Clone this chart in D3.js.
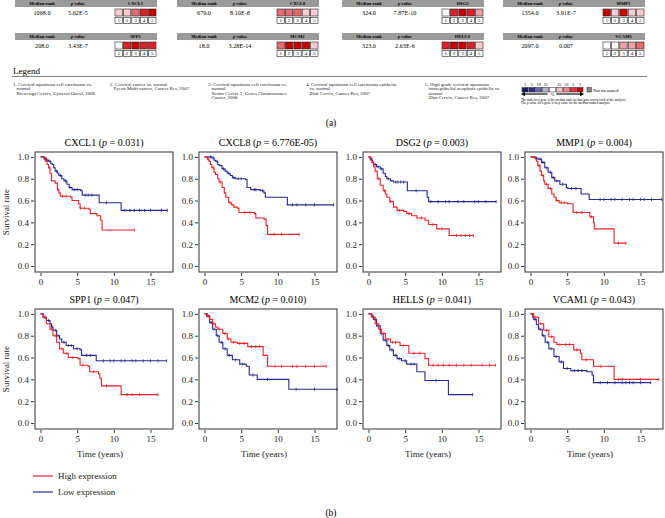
<!DOCTYPE html>
<html>
<head>
<meta charset="utf-8">
<script src="https://cdn.jsdelivr.net/npm/d3@7"></script>
<style>
  body { margin: 0; background: #fff; }
  svg { display: block; font-family: "Liberation Serif", "DejaVu Serif", serif; }
</style>
</head>
<body>
<svg width="665" height="518"></svg>
<script>
// ---- panel (a) data ----
const genes = ["CXCL1", "CXCL8", "DSG2", "MMP1", "SPP1", "MCM2", "HELLS", "VCAM1"];
const medianRanks = ["1068.0", "679.0", "324.0", "1354.0", "208.0", "18.0", "323.0", "2097.0"];
const pValues = ["5.62E-5", "8.10E-8", "7.87E-10", "3.91E-7", "3.43E-7", "3.28E-14", "2.63E-6", "0.007"];
// shade level of each of the 5 analyses (0 = white ... 5 = darkest red)
const boxLevels = [
  [1, 1, 3, 4, 5],
  [3, 3, 3, 1, 1],
  [0, 4, 5, 4, 2],
  [5, 1, 5, 1, 1],
  [0, 4, 5, 4, 4],
  [3, 5, 5, 5, 1],
  [4, 5, 5, 4, 1],
  [0, 0, 2, 2, 3]
];
const legendItems = [
  ["1. Cervical squamous cell carcinoma vs.", "normal", "Biewenga Cervix, Gynecol Oncol, 2008"],
  ["2. Cervical cancer vs. normal", "Pyeon Multi-cancer, Cancer Res, 2007"],
  ["3. Cervical squamous cell carcinoma vs.", "normal", "Scotto Cervix 2, Genes Chromosomes", "Cancer, 2008"],
  ["4. Cervical squamous cell carcinoma epithelia", "vs. normal", "Zhai Cervix, Cancer Res, 2007"],
  ["5. High grade cervical squamous", "intraepithelial neoplasia epithelia vs.", "normal", "Zhai Cervix, Cancer Res, 2007"]
];
const scaleLabels = ["1", "5", "10", "25", "", "25", "10", "5", "1"];

// ---- panel (b) data ----
const kmP = ["0.031", "6.776E-05", "0.003", "0.004", "0.047", "0.010", "0.041", "0.043"];
const yTicks = [0, 0.2, 0.4, 0.6, 0.8, 1.0];
const xTicks = [0, 5, 10, 15];

// [time, survival] steps, high expression (red)
const highCurves = [
  [[0,1],[0.5,0.98],[0.7,0.96],[0.9,0.93],[1.1,0.9],[1.3,0.85],[1.5,0.78],[2.0,0.76],[2.3,0.70],[2.5,0.67],[2.7,0.64],[4.1,0.63],[4.3,0.6],[5.2,0.57],[5.4,0.53],[6.6,0.52],[6.8,0.48],[7.7,0.46],[8.2,0.42],[8.4,0.33],[12.8,0.33]],
  [[0,1],[0.4,0.98],[0.6,0.96],[0.8,0.93],[1.0,0.90],[1.3,0.86],[1.5,0.84],[1.8,0.80],[2.0,0.77],[2.4,0.72],[2.7,0.67],[2.9,0.63],[3.3,0.58],[3.7,0.56],[4.0,0.54],[4.5,0.53],[4.7,0.49],[6.8,0.48],[7.0,0.44],[8.1,0.43],[8.4,0.37],[8.6,0.29],[12.9,0.29]],
  [[0,1],[0.3,0.97],[0.5,0.95],[0.7,0.91],[0.9,0.87],[1.2,0.80],[1.6,0.74],[2.0,0.69],[2.3,0.66],[2.5,0.63],[2.9,0.59],[3.4,0.54],[3.9,0.51],[4.8,0.50],[5.2,0.48],[5.9,0.46],[6.6,0.44],[7.7,0.42],[8.2,0.38],[9.3,0.34],[11.0,0.28],[14.3,0.28]],
  [[0,1],[0.6,0.99],[0.8,0.96],[1.0,0.92],[1.3,0.87],[1.5,0.83],[1.8,0.78],[1.95,0.75],[2.4,0.71],[2.9,0.66],[3.2,0.63],[3.5,0.60],[3.9,0.58],[5.0,0.57],[5.8,0.49],[8.1,0.45],[8.6,0.40],[8.7,0.34],[11.4,0.21],[13.0,0.21]],
  [[0,1],[0.35,0.97],[0.8,0.91],[1.3,0.86],[1.7,0.80],[2.2,0.74],[2.6,0.68],[3.1,0.64],[3.8,0.60],[5.1,0.59],[5.4,0.53],[6.5,0.52],[6.7,0.47],[7.9,0.45],[8.1,0.41],[8.3,0.34],[11.0,0.26],[16.0,0.26]],
  [[0,1],[0.4,0.98],[0.7,0.95],[1.1,0.91],[1.5,0.88],[1.8,0.86],[2.5,0.82],[3.1,0.77],[3.6,0.74],[4.5,0.73],[5.9,0.70],[8.0,0.62],[8.6,0.52],[16.6,0.52]],
  [[0,1],[0.45,0.97],[0.9,0.91],[1.4,0.86],[1.8,0.82],[2.3,0.77],[3.0,0.74],[4.3,0.71],[5.5,0.64],[7.7,0.59],[8.2,0.53],[17.3,0.53]],
  [[0,1],[0.45,0.97],[1.1,0.91],[1.8,0.85],[2.5,0.79],[3.2,0.74],[3.6,0.72],[5.9,0.67],[6.8,0.64],[7.0,0.58],[8.6,0.52],[11.4,0.40],[17.5,0.40]]
];
// low expression (blue)
const lowCurves = [
  [[0,1],[0.45,0.99],[0.8,0.97],[1.1,0.96],[1.4,0.94],[1.6,0.93],[1.8,0.9],[2.0,0.87],[2.3,0.85],[2.5,0.83],[2.9,0.8],[3.2,0.78],[3.6,0.75],[3.9,0.72],[4.3,0.70],[5.5,0.69],[5.7,0.65],[8.0,0.58],[11.0,0.51],[17.3,0.51]],
  [[0,1],[0.6,1.0],[1.0,0.99],[1.3,0.97],[1.5,0.96],[1.8,0.93],[2.0,0.92],[2.4,0.89],[2.8,0.87],[3.1,0.85],[3.5,0.83],[3.8,0.81],[4.2,0.80],[5.6,0.79],[5.8,0.72],[6.3,0.70],[7.6,0.69],[8.1,0.67],[8.3,0.63],[11.3,0.56],[17.6,0.56]],
  [[0,1],[0.2,0.98],[0.5,0.95],[0.7,0.93],[1.1,0.91],[1.6,0.89],[2.0,0.85],[2.3,0.82],[2.5,0.80],[3.0,0.78],[3.4,0.77],[5.3,0.69],[8.0,0.63],[8.2,0.59],[17.4,0.59]],
  [[0,1],[0.6,0.99],[1.0,0.98],[1.5,0.95],[1.95,0.90],[2.4,0.86],[2.9,0.81],[3.3,0.78],[4.0,0.75],[4.9,0.72],[5.1,0.71],[6.9,0.66],[8.0,0.61],[17.9,0.61]],
  [[0,1],[0.35,0.97],[0.8,0.94],[1.3,0.91],[1.5,0.88],[1.7,0.85],[2.2,0.80],[2.6,0.77],[2.9,0.74],[3.5,0.71],[4.5,0.68],[5.4,0.67],[5.6,0.62],[7.6,0.57],[17.2,0.57]],
  [[0,1],[0.3,0.98],[0.7,0.92],[1.1,0.86],[1.6,0.80],[2.0,0.74],[2.5,0.68],[3.1,0.62],[3.8,0.58],[4.8,0.54],[5.7,0.52],[6.1,0.44],[7.2,0.40],[11.5,0.31],[18.1,0.31]],
  [[0,1],[0.4,0.98],[0.7,0.95],[1.1,0.89],[1.6,0.82],[2.0,0.76],[2.5,0.71],[2.9,0.67],[3.4,0.62],[3.9,0.59],[4.5,0.57],[5.2,0.54],[6.6,0.47],[7.7,0.39],[10.9,0.26],[14.2,0.26]],
  [[0,1],[0.3,0.97],[0.45,0.95],[0.8,0.9],[1.1,0.86],[1.6,0.80],[2.0,0.74],[2.5,0.68],[3.2,0.61],[3.9,0.56],[4.5,0.50],[5.5,0.48],[7.7,0.47],[8.4,0.44],[8.6,0.37],[16.4,0.37]]
];
// censoring times
const highCensor = [
  [0.6,1.2,2.4,3.0,3.5,5.5,6.0,12.8],
  [0.5,1.2,2.2,3.5,5.5,6.2,9.5,10.5,12.9],
  [0.6,1.4,2.2,3.0,4.2,5.5,7.2,8.8,10.0,12.0,12.6,13.2,13.8,14.3],
  [0.7,1.2,1.7,2.2,2.7,3.6,4.2,4.6,6.3,7.0,8.3,12.0,13.0],
  [0.6,1.5,2.0,2.9,3.5,4.4,5.8,7.2,9.0,11.8,12.5,13.5,16.0],
  [0.5,1.3,2.0,2.8,3.3,4.0,4.8,5.4,6.4,7.0,7.5,9.6,10.5,12.0,12.6,13.8,15.0,16.6],
  [0.6,1.1,1.6,2.1,2.7,3.3,3.7,4.8,6.2,7.0,8.8,9.5,10.2,11.0,12.0,13.0,14.0,15.5,16.5,17.3],
  [0.6,1.4,2.2,2.9,4.0,4.8,5.3,6.3,7.6,9.6,12.0,12.5,15.0,17.5]
];
const lowCensor = [
  [0.6,1.0,1.3,2.2,2.7,3.4,4.0,4.6,5.0,6.1,6.5,7.0,9.0,11.5,12.2,12.8,13.5,14.2,15.0,16.5,17.3],
  [0.8,1.2,1.7,2.6,3.3,4.0,4.6,5.0,6.8,7.0,7.9,12.0,12.6,13.8,15.0,17.6],
  [0.4,0.9,1.3,1.8,2.7,3.7,4.0,4.4,4.8,6.5,8.5,9.5,10.5,11.0,12.2,13.0,14.5,15.0,16.0,17.4],
  [0.8,1.3,1.7,2.2,2.7,3.1,3.6,4.4,5.6,6.2,9.5,10.0,11.0,11.5,12.5,13.5,14.0,15.0,15.5,16.5,17.9],
  [0.6,1.1,1.6,2.0,2.4,3.2,3.8,4.2,5.0,6.3,6.8,8.6,9.5,10.0,11.0,11.5,12.5,13.0,14.0,15.0,16.0,17.2],
  [0.5,0.9,1.3,1.8,2.3,2.8,3.4,4.2,5.2,6.6,8.6,12.5,15.0,18.1],
  [0.6,0.9,1.3,1.8,2.3,2.7,3.2,3.7,4.2,5.0,5.8,6.2,9.2,14.2],
  [0.6,1.3,1.8,2.3,2.8,3.5,4.2,5.0,6.0,6.5,7.0,9.5,10.5,11.5,12.5,13.0,13.5,14.0,15.0,16.4]
];

const svg = d3.select("svg");
const RED = "#e8222a", BLUE = "#2a2a8c";
const shades = ["#ffffff", "#f8cdd2", "#f0a0a8", "#e66a72", "#dc2129", "#c90000"];

// ================= panel (a) =================
const blockX = [15, 177, 342, 503];
const rowY = [0, 33];
const ga = svg.append("g");

genes.forEach((g, i) => {
  const bx = blockX[i % 4], by = rowY[Math.floor(i / 4)];
  const blk = ga.append("g").attr("transform", `translate(${bx},${by})`);
  blk.append("rect").attr("width", 142).attr("height", 7).attr("fill", "#9a9a9a");
  blk.append("text").attr("x", 27).attr("y", 5).attr("text-anchor", "middle")
    .style("font-size", "4.6px").style("font-weight", "bold").text("Median rank");
  const pv = blk.append("text").attr("x", 63).attr("y", 5).attr("text-anchor", "middle")
    .style("font-size", "4.6px").style("font-weight", "bold");
  pv.append("tspan").style("font-style", "italic").text("p");
  pv.append("tspan").text(" value");
  blk.append("text").attr("x", 120.5).attr("y", 5).attr("text-anchor", "middle")
    .style("font-size", "4.6px").style("font-weight", "bold").text(g);

  blk.append("text").attr("x", 27).attr("y", 15).attr("text-anchor", "middle")
    .style("font-size", "6.2px").text(medianRanks[i]);
  blk.append("text").attr("x", 63).attr("y", 15).attr("text-anchor", "middle")
    .style("font-size", "6.2px").text(pValues[i]);

  const bxs = d3.scaleBand().domain([1, 2, 3, 4, 5]).range([100, 141]).paddingInner(0.12);
  blk.selectAll(".cbox").data(boxLevels[i]).enter().append("rect")
    .attr("x", (d, j) => bxs(j + 1)).attr("y", 9)
    .attr("width", bxs.bandwidth()).attr("height", 7)
    .attr("fill", d => shades[d]).attr("stroke", "#222").attr("stroke-width", 0.6);
  blk.selectAll(".nbox").data([1, 2, 3, 4, 5]).enter().append("rect")
    .attr("x", d => bxs(d)).attr("y", 17.3)
    .attr("width", bxs.bandwidth()).attr("height", 6)
    .attr("fill", "#fff").attr("stroke", "#222").attr("stroke-width", 0.6);
  blk.selectAll(".ntxt").data([1, 2, 3, 4, 5]).enter().append("text")
    .attr("x", d => bxs(d) + bxs.bandwidth() / 2).attr("y", 22.3)
    .attr("text-anchor", "middle").style("font-size", "5px").text(d => d);
});

// Legend of panel (a)
ga.append("text").attr("x", 13).attr("y", 73.5).style("font-size", "9px").text("Legend");
ga.append("line").attr("x1", 12).attr("x2", 647).attr("y1", 76.5).attr("y2", 76.5)
  .attr("stroke", "#666").attr("stroke-width", 0.8);

const itemX = [13, 110, 208, 306, 425];
legendItems.forEach((lines, i) => {
  const t = ga.append("text").style("font-size", "4.9px").attr("fill", "#222");
  lines.forEach((l, k) => {
    t.append("tspan").attr("x", itemX[i] + (k > 0 ? 3.5 : 0)).attr("y", 85.5 + k * 4.6).text(l);
  });
});

// colour scale key
const keyColors = ["#1b1b6b", "#2c2c8a", "#6b6bb0", "#b4b4da", "#ffffff", "#f6c3c8", "#ee8890", "#e0323a", "#cc0000"];
const ks = d3.scaleBand().domain(d3.range(9)).range([522, 583]).paddingInner(0.12);
ga.selectAll(".kbox").data(keyColors).enter().append("rect")
  .attr("x", (d, i) => ks(i)).attr("y", 87.5).attr("width", ks.bandwidth()).attr("height", 4.5)
  .attr("fill", d => d).attr("stroke", "#222").attr("stroke-width", 0.5);
ga.selectAll(".klab").data(scaleLabels).enter().append("text")
  .attr("x", (d, i) => ks(i) + ks.bandwidth() / 2).attr("y", 86.3)
  .attr("text-anchor", "middle").style("font-size", "4.4px").text(d => d);
// arrows
const ar = ga.append("g").attr("stroke", "#000").attr("stroke-width", 1.1).attr("fill", "none");
ar.append("line").attr("x1", ks(3) + 5).attr("x2", ks(0) + 1).attr("y1", 94).attr("y2", 94);
ar.append("line").attr("x1", ks(5)).attr("x2", ks(8) + 5).attr("y1", 94).attr("y2", 94);
ga.append("path").attr("d", `M${ks(0) - 1},94 l4,-2.2 v4.4 z`).attr("fill", "#000");
ga.append("path").attr("d", `M${ks(8) + ks.bandwidth() + 1},94 l-4,-2.2 v4.4 z`).attr("fill", "#000");
ga.append("text").attr("x", ks(4) + ks.bandwidth() / 2).attr("y", 96).attr("text-anchor", "middle")
  .style("font-size", "4px").text("%");
ga.append("rect").attr("x", 587).attr("y", 87.5).attr("width", 4.5).attr("height", 4.5)
  .attr("fill", "#888").attr("stroke", "#222").attr("stroke-width", 0.5);
ga.append("text").attr("x", 593).attr("y", 91.5).style("font-size", "4.6px").text("Not measured");
ga.append("text").attr("x", 521).attr("y", 100.5).style("font-size", "3.3px")
  .text("The rank for a gene is the median rank for that gene across each of the analysis.");
ga.append("text").attr("x", 521).attr("y", 104).style("font-size", "3.3px")
  .text("The p value for a gene is its p value for the median-ranked analysis.");

ga.append("text").attr("x", 331).attr("y", 126).attr("text-anchor", "middle")
  .style("font-size", "9.5px").text("(a)");

// ================= panel (b) =================
const plotLeft = [35, 199, 363, 525];
const plotTop = [152, 309];
const PW = 138, PH = 120;

function survAt(curve, t) {
  const i = d3.bisector(d => d[0]).right(curve, t) - 1;
  return curve[Math.max(0, i)][1];
}

genes.forEach((g, i) => {
  const col = i % 4, row = Math.floor(i / 4);
  const left = plotLeft[col], top = plotTop[row];
  const x = d3.scaleLinear().domain([-0.75, 18.07]).range([left, left + PW]);
  const y = d3.scaleLinear().domain([-0.055, 1.045]).range([top + PH, top]);
  const gp = svg.append("g");

  // title
  const tt = gp.append("text").attr("x", left + PW / 2).attr("y", top - 6)
    .attr("text-anchor", "middle").style("font-size", "10px");
  tt.append("tspan").text(g + " (");
  tt.append("tspan").style("font-style", "italic").text("p");
  tt.append("tspan").text(" = " + kmP[i] + ")");

  // axes
  const ya = gp.append("g").attr("transform", `translate(${left - 1},0)`)
    .call(d3.axisLeft(y).tickValues(yTicks).tickFormat(d3.format(".1f")).tickSize(3).tickPadding(2));
  const xa = gp.append("g").attr("transform", `translate(0,${top + PH + 1})`)
    .call(d3.axisBottom(x).tickValues(xTicks).tickSize(3).tickPadding(2.5));
  [ya, xa].forEach(a => {
    a.select(".domain").remove();
    a.selectAll("text").style("font-family", "Liberation Serif, serif").style("font-size", "9px").attr("fill", "#222");
    a.selectAll("line").attr("stroke", "#333");
  });

  const line = d3.line().x(d => x(d[0])).y(d => y(d[1])).curve(d3.curveStepAfter);
  [[lowCurves[i], lowCensor[i], BLUE], [highCurves[i], highCensor[i], RED]].forEach(([c, cens, col2]) => {
    gp.append("path").attr("d", line(c)).attr("fill", "none")
      .attr("stroke", col2).attr("stroke-width", 1.1);
    gp.selectAll(null).data(cens).enter().append("line")
      .attr("x1", d => x(d)).attr("x2", d => x(d))
      .attr("y1", d => y(survAt(c, d)) - 1.6).attr("y2", d => y(survAt(c, d)) + 1.6)
      .attr("stroke", col2).attr("stroke-width", 0.8);
  });

  // frame
  gp.append("rect").attr("x", left).attr("y", top).attr("width", PW).attr("height", PH)
    .attr("fill", "none").attr("stroke", "#333").attr("stroke-width", 1);

  if (col === 0) {
    gp.append("text").attr("transform", `translate(9,${top + PH / 2}) rotate(-90)`)
      .attr("text-anchor", "middle").style("font-size", "9px").attr("fill", "#222").text("Survival rate");
  }
  if (row === 1) {
    gp.append("text").attr("x", left + PW / 2 - 4).attr("y", top + PH + 28)
      .attr("text-anchor", "middle").style("font-size", "9px").attr("fill", "#222").text("Time (years)");
  }
});

// legend (b)
const legB = [["High expression", RED], ["Low expression", BLUE]];
legB.forEach(([lab, c], k) => {
  const yy = 476 + k * 16;
  svg.append("line").attr("x1", 33).attr("x2", 53).attr("y1", yy).attr("y2", yy)
    .attr("stroke", c).attr("stroke-width", 1.2);
  svg.append("text").attr("x", 58).attr("y", yy + 3).style("font-size", "9px").attr("fill", "#222").text(lab);
});
svg.append("text").attr("x", 331).attr("y", 516).attr("text-anchor", "middle")
  .style("font-size", "9.5px").text("(b)");
</script>
</body>
</html>
